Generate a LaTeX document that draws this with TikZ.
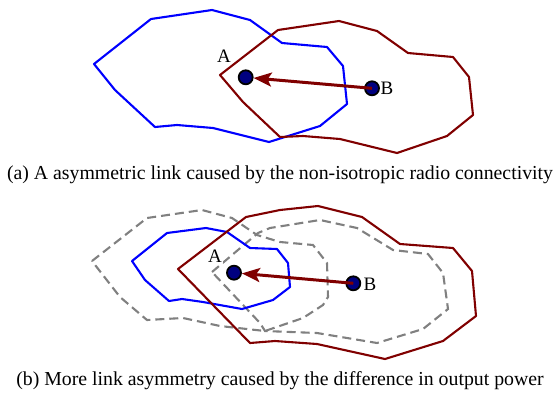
\documentclass[tikz,border=0pt]{standalone}
\usepackage{fontspec}
\setmainfont{Liberation Serif}
\usetikzlibrary{arrows.meta}
\definecolor{darkred}{RGB}{128,0,0}
\definecolor{navyfill}{RGB}{0,0,128}
\definecolor{dashgray}{RGB}{128,128,128}
\begin{document}
\begin{tikzpicture}[x=1pt,y=-1pt,
  rangeA/.style={draw=blue, line width=2.1pt, line join=round},
  rangeB/.style={draw=darkred, line width=2.1pt, line join=round},
  rangeD/.style={draw=dashgray, line width=2.1pt, dash pattern=on 9pt off 5pt},
  mote/.style={circle, fill=navyfill, draw=black, line width=1.8pt, minimum size=14pt, inner sep=0pt},
  lbl/.style={font=\fontsize{19}{19}\selectfont, fill=white, inner sep=1pt},
  linkarrow/.style={draw=darkred, line width=3pt, -{Stealth[length=18pt,width=14pt,inset=4pt]}},
  captxt/.style={font=\fontsize{19.8}{22}\selectfont}]
\useasboundingbox (0,0) rectangle (559,394);

% ---------- (a) ----------
\draw[rangeA] (94,64) -- (151,19) -- (212,10) -- (250,20) -- (282,43) -- (327,47) -- (343,66) -- (347,104) -- (320,126) -- (269,142) -- (213,128) -- (177,125) -- (155,127) -- (115,90) -- cycle;
\draw[rangeB] (220,75) -- (278,30) -- (339,21) -- (377,31) -- (408,53) -- (453,57) -- (469,77) -- (473,115) -- (447,136) -- (397,153) -- (340,139) -- (303,136) -- (280,137) -- (243,102) -- cycle;
\node[lbl] (la) at (224,56) {A};
\node[lbl] (lb) at (387,88.5) {B};
\node[mote] (a1) at (245.7,77.3) {};
\node[mote] (b1) at (372,88.3) {};
\draw[linkarrow] (b1.center) -- (a1);
\node[captxt] (capa) at (280,175) {(a) A asymmetric link caused by the non-isotropic radio connectivity};

% ---------- (b) ----------
\draw[rangeD] (92,261) -- (147,218) -- (202,210) -- (232,218) -- (257,235) -- (280,242) -- (313,245) -- (327,263) -- (328,297) -- (323,305) -- (303,318) -- (265,331) -- (220,326) -- (183,318) -- (147,320) -- (120,297) -- cycle;
\draw[rangeD] (212,272) -- (258,233) -- (270,228) -- (320,220) -- (357,228) -- (393,250) -- (428,254) -- (443,273) -- (448,309) -- (423,329) -- (377,343) -- (317,333) -- (265,331) -- (260,323) -- cycle;
\draw[rangeA] (132,261) -- (167,233) -- (206,228) -- (227,232) -- (250,248) -- (277,249) -- (288,263) -- (290,287) -- (273,300) -- (242,309) -- (203,302) -- (182,299) -- (169,301) -- (145,280) -- cycle;
\draw[rangeB] (178,269) -- (246,217) -- (280,210) -- (318,206) -- (362,217) -- (400,244) -- (453,248) -- (472,271) -- (476,316) -- (443,341) -- (385,359) -- (317,344) -- (275,341) -- (250,343) -- cycle;
\node[lbl] (la2) at (215,256) {A};
\node[lbl] (lb2) at (370,284) {B};
\node[mote] (a2) at (234,272.7) {};
\node[mote] (b2) at (353.3,283.3) {};
\draw[linkarrow] (b2.center) -- (a2);
\node[captxt] (capb) at (280,381) {(b) More link asymmetry caused by the difference in output power};
\end{tikzpicture}
\end{document}
